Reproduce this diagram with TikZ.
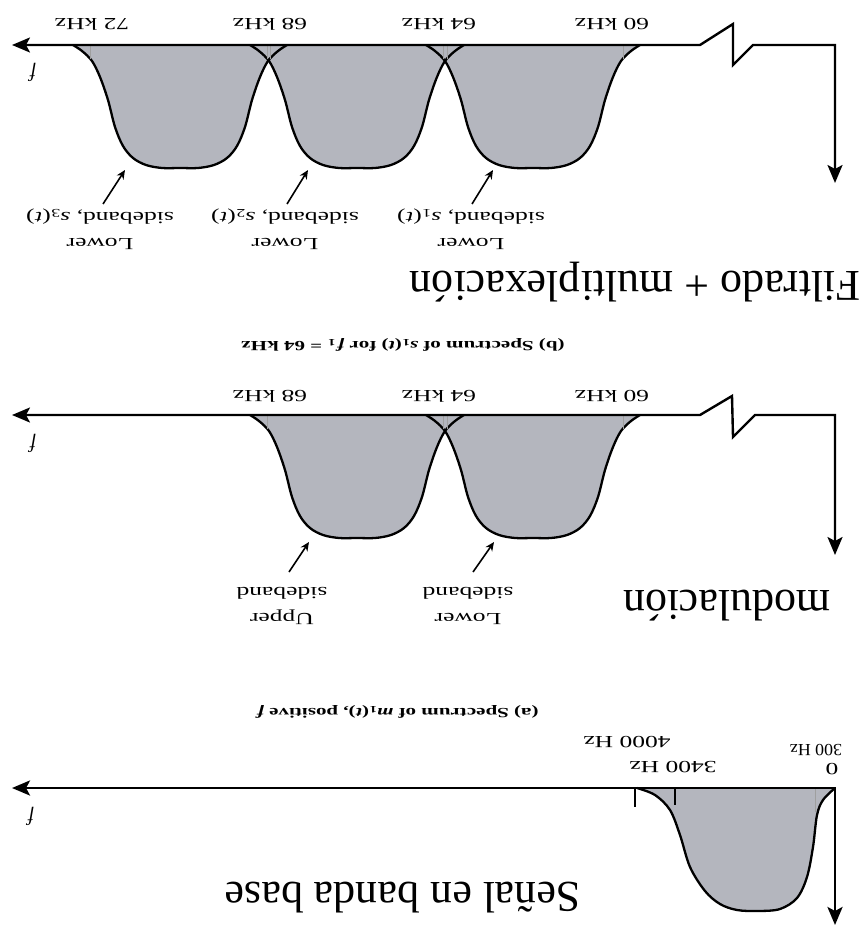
\documentclass[tikz,border=0pt]{standalone}
\usepackage{fontspec}
\setmainfont{Liberation Serif}
\usepackage{graphicx}
\usetikzlibrary{arrows.meta}
\definecolor{humpgray}{RGB}{180,182,190}
\newcommand\sx[1]{\scalebox{1.5}[1]{#1}}
\newcommand\ssb[2]{\textit{#1}\textsubscript{#2}}
\begin{document}
\begin{tikzpicture}[x=1pt,y=-1pt,
  axisline/.style={line width=2.4pt, line join=miter,
     {Stealth[length=18pt,width=15pt,inset=4pt]}-{Stealth[length=18pt,width=15pt,inset=4pt]}},
  curve/.style={line width=2.3pt, line join=round},
  faint/.style={gray!75, line width=0.6pt},
  tickmark/.style={line width=1.6pt},
  ptr/.style={line width=1.6pt, -{Stealth[length=9pt,width=8pt]}},
  lbl/.style={rotate=180, inner sep=0pt, font=\fontsize{17}{26}\selectfont, align=center},
  captext/.style={rotate=180, inner sep=0pt, font=\fontsize{14}{14}\selectfont\bfseries},
  title/.style={rotate=180, inner sep=0pt, font=\fontsize{44}{44}\selectfont},
  flab/.style={rotate=180, inner sep=0pt, font=\fontsize{20}{20}\selectfont\itshape},
  humpfill/.pic={\fill[humpgray] plot[smooth, tension=0.55] coordinates {(-107,0) (-98,6) (-88,16) (-80,32) (-72,55) (-65,82) (-57,101) (-47,113) (-34,120) (-18,123) (0,123) (18,123) (34,120) (47,113) (57,101) (65,82) (72,55) (80,32) (88,16) (98,6) (107,0)} -- cycle;},
  humpline/.pic={\draw[curve] plot[smooth, tension=0.55] coordinates {(-107,0) (-98,6) (-88,16) (-80,32) (-72,55) (-65,82) (-57,101) (-47,113) (-34,120) (-18,123) (0,123) (18,123) (34,120) (47,113) (57,101) (65,82) (72,55) (80,32) (88,16) (98,6) (107,0)};
     \draw[faint] (-90,0) -- (-90,14); \draw[faint] (90,0) -- (90,14);},
]
\useasboundingbox (0,0) rectangle (866,933);

% ---------------- top panel: Filtrado + multiplexacion ----------------
\pic at (533,45) {humpfill};
\pic at (357,45) {humpfill};
\pic at (180,45) {humpfill};
\pic at (533,45) {humpline};
\pic at (357,45) {humpline};
\pic at (180,45) {humpline};
\coordinate (t0) at (835,183);
\coordinate (t1) at (835,45);
\coordinate (t2) at (753,45);
\coordinate (t3) at (733,65);
\coordinate (t4) at (733,24);
\coordinate (t5) at (700,45);
\coordinate (t6) at (12,45);
\draw[axisline] (t0) -- (t1) -- (t2) -- (t3) -- (t4) -- (t5) -- (t6);
\node[flab] (tf) at (33,72) {f};
\node[lbl] (t60) at (612,24) {\sx{60 kHz}};
\node[lbl] (t64) at (439,24) {\sx{64 kHz}};
\node[lbl] (t68) at (270,24) {\sx{68 kHz}};
\node[lbl] (t72) at (92,24) {\sx{72 kHz}};
\node[lbl] (ls1) at (471,229) {\sx{Lower}\\\sx{sideband, \ssb{s}{1}(\textit{t})}};
\node[lbl] (ls2) at (285,229) {\sx{Lower}\\\sx{sideband, \ssb{s}{2}(\textit{t})}};
\node[lbl] (ls3) at (100,229) {\sx{Lower}\\\sx{sideband, \ssb{s}{3}(\textit{t})}};
\coordinate (a1t) at (472,204); \coordinate (a1h) at (493,170);
\coordinate (a2t) at (287,204); \coordinate (a2h) at (308,170);
\coordinate (a3t) at (103,204); \coordinate (a3h) at (125,170);
\draw[ptr] (a1t) -- (a1h);
\draw[ptr] (a2t) -- (a2h);
\draw[ptr] (a3t) -- (a3h);
\node[title] (ttl1) at (635,282) {Filtrado + multiplexación};
\node[captext] (capb) at (403,345) {\sx{(b) Spectrum of \ssb{s}{1}(\textit{t}) for \ssb{f}{1} = 64 kHz}};

% ---------------- middle panel: modulacion ----------------
\pic at (533,415) {humpfill};
\pic at (357,415) {humpfill};
\pic at (533,415) {humpline};
\pic at (357,415) {humpline};
\coordinate (m0) at (835,555);
\coordinate (m1) at (835,415);
\coordinate (m2) at (755,415);
\coordinate (m3) at (733,437);
\coordinate (m4) at (732,396);
\coordinate (m5) at (700,415);
\coordinate (m6) at (12,415);
\draw[axisline] (m0) -- (m1) -- (m2) -- (m3) -- (m4) -- (m5) -- (m6);
\node[flab] (mf) at (33,443) {f};
\node[lbl] (m60) at (612,396) {\sx{60 kHz}};
\node[lbl] (m64) at (439,396) {\sx{64 kHz}};
\node[lbl] (m68) at (270,396) {\sx{68 kHz}};
\node[lbl] (lsb) at (468,606) {\sx{Lower}\\\sx{sideband}};
\node[lbl] (usb) at (282,606) {\sx{Upper}\\\sx{sideband}};
\coordinate (b1t) at (473,572); \coordinate (b1h) at (494,542);
\coordinate (b2t) at (289,572); \coordinate (b2h) at (309,542);
\draw[ptr] (b1t) -- (b1h);
\draw[ptr] (b2t) -- (b2h);
\node[title] (ttl2) at (727,606) {modulación};
\node[captext] (capa) at (397,712) {\sx{(a) Spectrum of \ssb{m}{1}(\textit{t}), positive \textit{f}}};

% ---------------- bottom panel: baseband ----------------
\fill[humpgray] plot[smooth, tension=0.55] coordinates {(835,788) (823,800) (817,815) (813,847) (807,877) (797,898) (780,909) (758,911) (737,910) (720,904) (705,891) (690,867) (680,835) (670,810) (655,795) (637,788)} -- cycle;
\draw[curve] plot[smooth, tension=0.55] coordinates {(835,788) (823,800) (817,815) (813,847) (807,877) (797,898) (780,909) (758,911) (737,910) (720,904) (705,891) (690,867) (680,835) (670,810) (655,795) (637,788)};
\draw[faint] (815,788) -- (815,812);
\coordinate (k1) at (635,788); \coordinate (k1e) at (635,807);
\coordinate (k2) at (675,788); \coordinate (k2e) at (675,805);
\draw[tickmark] (k1) -- (k1e);
\draw[tickmark] (k2) -- (k2e);
\coordinate (g0) at (835,925);
\coordinate (g1) at (835,788);
\coordinate (g2) at (12,788);
\draw[axisline, line width=2.8pt] (g0) -- (g1) -- (g2);
\node[flab] (gf) at (31,816) {f};
\node[lbl] (g0l) at (832,769) {\sx{0}};
\node[lbl] (g300) at (816,750) {\scalebox{1.05}[1]{300 Hz}};
\node[lbl] (g3400) at (673,767) {\sx{3400 Hz}};
\node[lbl] (g4000) at (627,742) {\sx{4000 Hz}};
\node[title] (ttl3) at (403,898) {Señal en banda base};
\end{tikzpicture}
\end{document}
